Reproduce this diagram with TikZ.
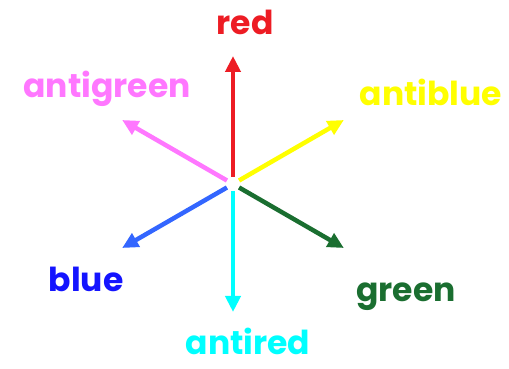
\documentclass[tikz,border=0pt]{standalone}
\usepackage{fontspec}
\setmainfont{Poppins}
\usetikzlibrary{calc, arrows.meta}
\definecolor{cRed}{RGB}{237, 28, 36}
\definecolor{cAntigreen}{RGB}{255, 119, 255}
\definecolor{cAntiblue}{RGB}{255, 255, 0}
\definecolor{cGreen}{RGB}{26, 110, 48}
\definecolor{cAntired}{RGB}{0, 255, 255}
\definecolor{cBlueArrow}{RGB}{51, 102, 255}
\definecolor{cBlue}{RGB}{20, 20, 255}

\begin{document}
\begin{tikzpicture}[x=1pt, y=1pt,
    colourvec/.style={line width=4.5pt, -{Triangle[length=16pt, width=15pt]}},
    colourname/.style={anchor=base, inner sep=1pt, font=\bfseries\fontsize{33}{33}\selectfont}]
  \useasboundingbox (0,0) rectangle (509,369);
  \coordinate (o) at (233,185);
  % tips of the six vectors
  \foreach \nm/\ang in {red/90, antiblue/30, green/-30, antired/-90, blue/210, antigreen/150} {
    \coordinate (s-\nm) at ($(o)+(\ang:7)$);
    \coordinate (t-\nm) at ($(o)+(\ang:128)$);
  }
  \draw[colourvec, cRed] (s-red) -- (t-red);
  \draw[colourvec, cAntiblue] (s-antiblue) -- (t-antiblue);
  \draw[colourvec, cGreen] (s-green) -- (t-green);
  \draw[colourvec, cAntired] (s-antired) -- (t-antired);
  \draw[colourvec, cBlueArrow] (s-blue) -- (t-blue);
  \draw[colourvec, cAntigreen] (s-antigreen) -- (t-antigreen);
  % labels
  \node[colourname, cRed] (lred) at (245,334) {red};
  \node[colourname, cAntiblue] (lantiblue) at (431,263) {antiblue};
  \node[colourname, cGreen] (lgreen) at (406,67) {green};
  \node[colourname, cAntired] (lantired) at (248,14) {antired};
  \node[colourname, cBlue] (lblue) at (86,77) {blue};
  \node[colourname, cAntigreen] (lantigreen) at (107,271) {antigreen};
\end{tikzpicture}
\end{document}
